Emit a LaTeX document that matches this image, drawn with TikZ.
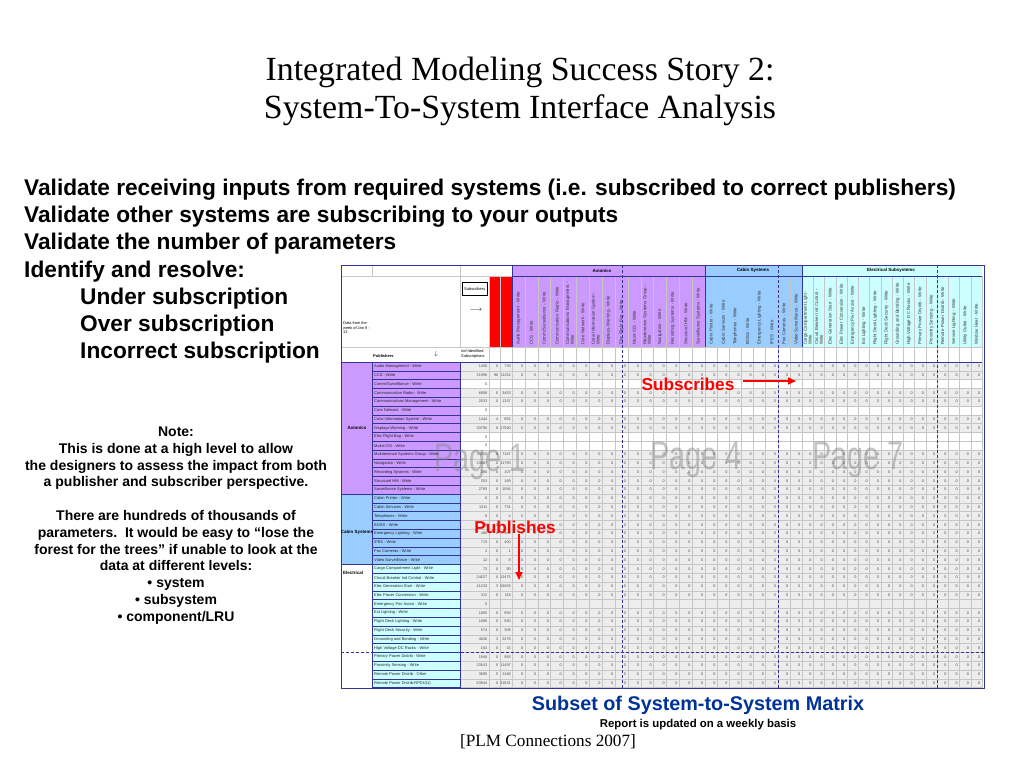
\documentclass[tikz,border=0pt]{standalone}
\usepackage{fontspec}
\setmainfont{Liberation Sans}
\newfontfamily\titlefont{Liberation Serif}
\usetikzlibrary{arrows.meta,positioning}
\definecolor{aviocolor}{RGB}{204,153,255}
\definecolor{cabincolor}{RGB}{153,204,255}
\definecolor{eleccolor}{RGB}{204,255,255}
\definecolor{linecolor}{RGB}{51,51,153}
\definecolor{matrixblue}{RGB}{0,51,153}

\begin{document}
\begin{tikzpicture}[x=1pt,y=-1pt,
    bullet/.style={anchor=west, inner sep=0pt, font=\bfseries\fontsize{22.7}{22.7}\selectfont},
    note/.style={align=center, inner sep=0pt, font=\bfseries\fontsize{14}{16.8}\selectfont},
    pubname/.style={anchor=west, inner sep=0pt, text=black!85, font=\fontsize{4}{4}\selectfont},
    num/.style={anchor=east, inner sep=0pt, text=black!70, font=\fontsize{3.8}{3.8}\selectfont},
    colhead/.style={rotate=90, anchor=west, align=left, text width=64pt, inner sep=0pt, text=black!80, font=\fontsize{4.4}{4.6}\selectfont},
    grouphead/.style={inner sep=0pt, font=\bfseries\fontsize{4.5}{4.5}\selectfont},
    small/.style={anchor=west, align=left, inner sep=0pt, font=\fontsize{3.9}{4.6}\selectfont},
    watermark/.style={text=gray, opacity=0.45, xscale=0.72, font=\fontsize{40}{40}\selectfont},
    redlabel/.style={text=red, inner sep=0pt, font=\bfseries\fontsize{17.2}{17.2}\selectfont},
    redarrow/.style={-{Triangle[length=8pt,width=7pt]}, red, line width=1.6pt},
    gridline/.style={draw=gray!45, line width=0.3pt},
    darkline/.style={draw=linecolor, line width=0.5pt},
    pagebreak/.style={draw=linecolor, line width=0.8pt, dash pattern=on 3pt off 2pt}
]
    \fill[white] (0,0) rectangle (1024,768);
    \useasboundingbox (0,0) rectangle (1024,768);

    % Title
    \node[align=center, font=\titlefont\fontsize{33.8}{38}\selectfont] (title) at (520,91)
        {Integrated Modeling Success Story 2:\\System-To-System Interface Analysis};

    % Goals
    \node[bullet] (b1) at (24,190) {Validate receiving inputs from required systems (i.e. subscribed to correct publishers)};
    \node[bullet] (b2) at (24,217) {Validate other systems are subscribing to your outputs};
    \node[bullet] (b3) at (24,244) {Validate the number of parameters};
    \node[bullet] (b4) at (24,272) {Identify and resolve:};
    \node[bullet] (b5) at (80,299) {Under subscription};
    \node[bullet] (b6) at (80,326) {Over subscription};
    \node[bullet] (b7) at (80,353) {Incorrect subscription};

    % Note
    \node[note] (note) at (176,525.5) {Note:\\This is done at a high level to allow\\the designers to assess the impact from both\\a publisher and subscriber perspective.\\[16.8pt]There are hundreds of thousands of\\parameters.\ \ It would be easy to ``lose the\\forest for the trees'' if unable to look at the\\data at different levels:\\\textbullet\ system\\\textbullet\ subsystem\\\textbullet\ component/LRU};

    % Matrix fills
    \fill[white] (341,265) rectangle (984,688);
    \fill[aviocolor] (512,265) rectangle (705,347);
    \fill[cabincolor] (705,265) rectangle (802,347);
    \fill[eleccolor] (802,265) rectangle (982,347);
    \fill[red] (489,276) rectangle (512,347);
    \fill[gray!14] (460,362) rectangle (982,687.6);
    \fill[aviocolor] (341,362) rectangle (460,494);
    \fill[cabincolor] (341,494) rectangle (460,564.4);
    \fill[eleccolor] (372,564.4) rectangle (460,687.6);
    \foreach \i in {2,5,8,9} \fill[white] (460,{362+8.8*\i}) rectangle (982,{370.8+8.8*\i});

    % Matrix grid
    \foreach \i in {0,...,37} {
        \draw[gridline] (460,{362+8.8*\i}) -- (982,{362+8.8*\i});
        \draw[darkline, line width=0.3pt] (372,{362+8.8*\i}) -- (460,{362+8.8*\i});
    }
    \foreach \x in {489,500,512} \draw[gridline] (\x,276) -- (\x,687.6);
    \foreach \c in {1,...,15} \draw[gridline] ({512+12.867*\c},276) -- ({512+12.867*\c},687.6);
    \foreach \c in {1,...,8} \draw[gridline] ({705+12.125*\c},276) -- ({705+12.125*\c},687.6);
    \foreach \c in {1,...,16} \draw[gridline] ({802+11.25*\c},276) -- ({802+11.25*\c},687.6);
    \draw[gridline] (341,276) -- (512,276);
    \draw[gridline] (341,347) -- (982,347);
    \draw[gridline] (372,265) -- (372,276);
    \draw[gridline] (460,265) -- (460,347);
    \draw[darkline] (512,276) -- (982,276);
    \draw[darkline] (512,265) -- (512,347);
    \draw[darkline] (705,265) -- (705,347);
    \draw[darkline] (802,265) -- (802,347);
    \draw[darkline] (341,362) -- (982,362);
    \draw[darkline] (341,494) -- (460,494);
    \draw[darkline] (341,564.4) -- (460,564.4);
    \draw[darkline] (372,362) -- (372,687.6);
    \draw[darkline] (460,362) -- (460,687.6);
    \draw[darkline] (341,265) rectangle (984,688);

    % Header texts
    \node[grouphead] (avio) at (602,270.5) {Avionics};
    \node[grouphead] (cabin) at (753,270.5) {Cabin Systems};
    \node[grouphead] (elec) at (891,270.5) {Electrical Subsystems};
    \node[small] (week) at (343,328) {Data from the\\week of Jan 9 -\\13};
    \node[draw, inner sep=1pt, minimum width=25pt, minimum height=13pt, anchor=north west,
        font=\fontsize{4}{4}\selectfont] (subscribers) at (462,282) {Subscribers};
    \node[font=\fontsize{7}{7}\selectfont] (subarrow) at (476,310) {$\longrightarrow$};
    \node[grouphead, anchor=west, font=\bfseries\fontsize{4}{4}\selectfont] (publishers) at (373,356) {Publishers};
    \node[font=\fontsize{6}{6}\selectfont] (pubarrow) at (436,354) {$\downarrow$};
    \node[small] (count) at (461,354) {\#of Identified\\Subscriptions};

    % Subscriber columns
    \foreach \h [count=\j from 0] in {Audio Management - Write, CCS - Write, {Comm/Surveillance - Write},
        Communication Radio - Write, Communications Management - Write, Core Network - Write,
        Crew Information System - Write, Displays-Warning - Write, Elec Flight Bag - Write,
        Maint-CIS - Write, Maintenance Systems Group - Write, Navigation - Write,
        Recording Systems - Write, Structural HM - Write, Surveillance Systems - Write}
        \node[colhead] (ah\j) at ({512+12.867*(\j+0.5)},345) {\h};
    \foreach \h [count=\j from 0] in {Cabin Printer - Write, Cabin Services - Write, Telephones - Write,
        BOSS - Write, Emergency Lighting - Write, IFES - Write, Pax Cameras - Write,
        Video Surveillance - Write}
        \node[colhead] (ch\j) at ({705+12.125*(\j+0.5)},345) {\h};
    \foreach \h [count=\j from 0] in {Cargo Compartment Light - Write, Circuit Breaker Ind Control - Write,
        Elec Generation Start - Write, Elec Power Conversion - Write, Emergency Pwr Assist - Write,
        Ext Lighting - Write, Flight Deck Lighting - Write, Flight Deck Security - Write,
        Grounding and Bonding - Write, High Voltage DC Racks - Write, Primary Power Distrib - Write,
        Proximity Sensing - Write, Remote Power Distrib - Write, Service Lighting - Write,
        Utility Outlet - Write, Window Heat - Write}
        \node[colhead] (eh\j) at ({802+11.25*(\j+0.5)},345) {\h};

    % Group labels
    \node[grouphead] (gavio) at (357,428) {Avionics};
    \node[grouphead] (gcabin) at (357,532) {Cabin Systems};
    \node[grouphead, anchor=west] (gelec) at (343,573) {Electrical};

    % Watermarks
    \node[watermark] (page1) at (480,462) {Page 1};
    \node[watermark] (page4) at (696,460) {Page 4};
    \node[watermark] (page7) at (858,460) {Page 7};

    % Publisher rows
    \foreach \name/\tot/\a/\b [count=\i from 0] in {
        Audio Management - Write/1450/0/738, CCS - Write/21996/96/11152, {Comm/Surveillance - Write}/0//,
        Communication Radio - Write/6908/0/3453, Communications Management - Write/2533/0/1337,
        Core Network - Write/0//, Crew Information System - Write/1444/4/882,
        Displays-Warning - Write/33795/0/17590, Elec Flight Bag - Write/0//, Maint-CIS - Write/0//,
        Maintenance Systems Group - Write/34252/0/7167, Navigation - Write/23067/0/11795,
        Recording Systems - Write/280/0/107, Structural HM - Write/253/0/169,
        Surveillance Systems - Write/2783/0/1584, Cabin Printer - Write/6/0/3,
        Cabin Services - Write/1311/0/731, Telephones - Write/8/0/4, BOSS - Write/8/0/8,
        Emergency Lighting - Write/468/0/361, IFES - Write/713/0/400, Pax Cameras - Write/1/0/1,
        Video Surveillance - Write/12/0/8, Cargo Compartment Light - Write/72/0/90,
        Circuit Breaker Ind Control - Write/24627/0/12475, Elec Generation Start - Write/41233/3/19283,
        Elec Power Conversion - Write/312/0/119, Emergency Pwr Assist - Write/0//,
        Ext Lighting - Write/1855/0/893, Flight Deck Lighting - Write/1080/0/580,
        Flight Deck Security - Write/574/0/308, Grounding and Bonding - Write/4626/3/2276,
        High Voltage DC Racks - Write/104/0/43, Primary Power Distrib - Write/1949/0/983,
        Proximity Sensing - Write/23543/0/11497, Remote Power Distrib - Other/3695/5/2186,
        Remote Power Distrib-RPDU(1)/63844/0/31831} {
        \pgfmathsetmacro\ry{366.4+8.8*\i}
        \node[pubname] (pub\i) at (374,\ry) {\name};
        \node[num] (tot\i) at (487.5,\ry) {\tot};
        \node[num] (ca\i) at (498.5,\ry) {\a};
        \node[num] (cb\i) at (511,\ry) {\b};
        \ifnum\tot>0
            \foreach \c in {0,...,38} {
                \pgfmathsetmacro\cx{\c<15 ? 512+12.867*(\c+1) : (\c<23 ? 705+12.125*(\c-14) : 802+11.25*(\c-22))}
                \node[num] (v\i-\c) at (\cx-1.5,\ry) {0};
            }
        \fi
    }

    % Page breaks
    \draw[pagebreak] (622,265) -- (622,688);
    \draw[pagebreak] (778,265) -- (778,688);
    \draw[pagebreak] (937,265) -- (937,688);
    \draw[pagebreak] (341,652.4) -- (984,652.4);

    % Annotations
    \node[redlabel] (subs) at (688,384) {Subscribes};
    \coordinate (subsend) at (796,381);
    \draw[redarrow] ([xshift=8pt]subs.east |- subsend) -- (subsend);
    \node[redlabel] (pubs) at (515,527) {Publishes};
    \coordinate (pubsend) at (519,580);
    \draw[redarrow] (pubs.south -| pubsend) -- (pubsend);

    % Caption
    \node[text=matrixblue, font=\bfseries\fontsize{19.8}{19.8}\selectfont] (caption) at (698,705) {Subset of System-to-System Matrix};
    \node[below=1.5pt of caption, inner sep=0pt, font=\bfseries\fontsize{11.4}{11.4}\selectfont] (weekly) {Report is updated on a weekly basis};
    \node[font=\titlefont\fontsize{17.2}{17.2}\selectfont] (source) at (548,742) {[PLM Connections 2007]};
\end{tikzpicture}
\end{document}
